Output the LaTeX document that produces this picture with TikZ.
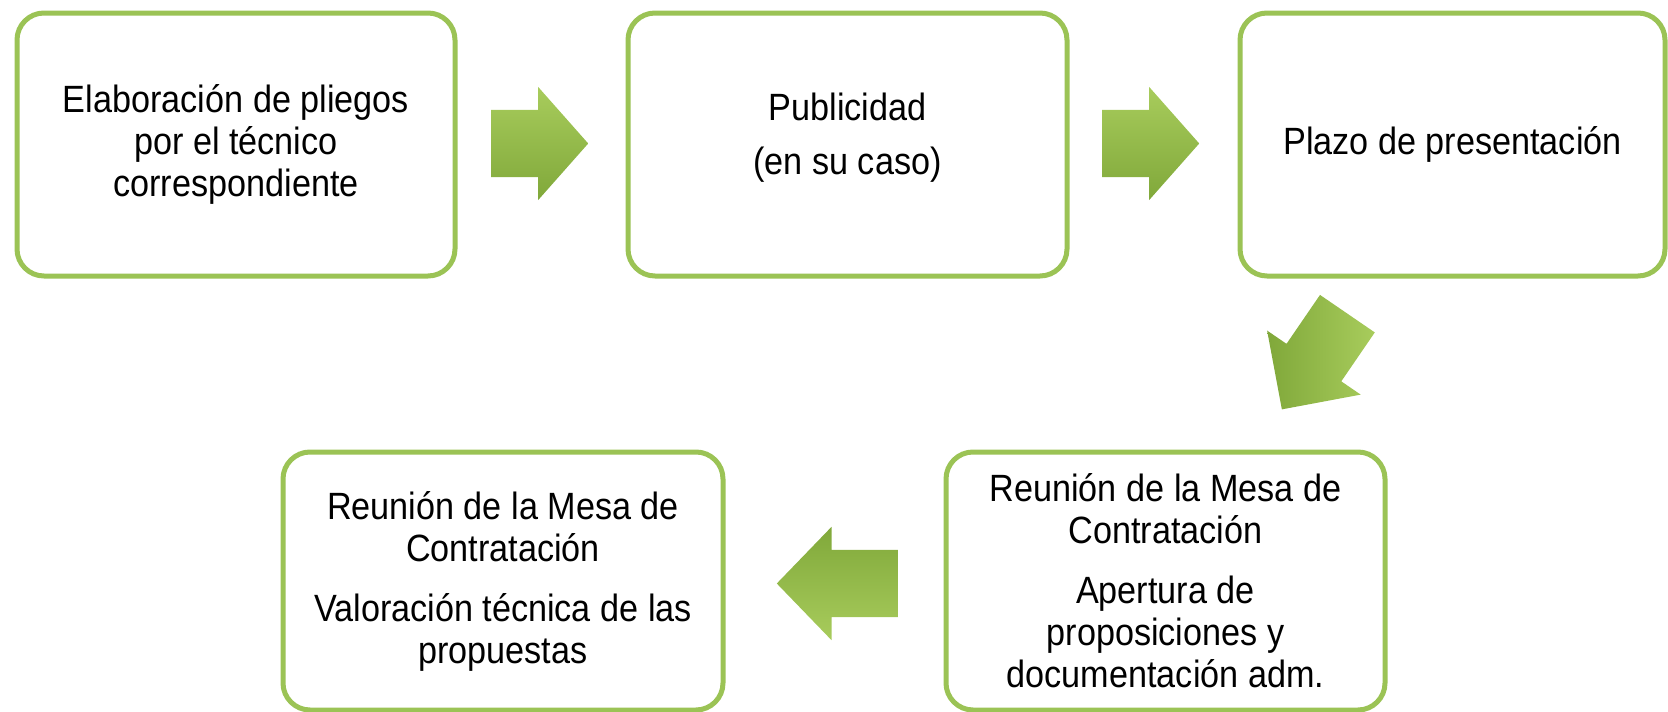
\documentclass[tikz,border=0pt]{standalone}
\usepackage{fontspec}
\setmainfont{Liberation Sans}[FakeStretch=0.9]
\usetikzlibrary{shapes.arrows}
\definecolor{rim}{RGB}{155,195,85}
\definecolor{arrlight}{RGB}{168,204,92}
\definecolor{arrdark}{RGB}{128,168,58}
\begin{document}
\begin{tikzpicture}[
  x=1pt, y=-1pt,
  box/.style={rectangle, draw=rim, line width=5pt, rounded corners=27pt,
    fill=white, align=center, inner sep=0pt,
    font=\fontsize{38}{42}\selectfont},
  arr/.style={single arrow, draw=none, anchor=tail, inner xsep=0pt, inner ysep=33.5pt,
    single arrow head extend=23pt, top color=arrlight, bottom color=arrdark}
]
\useasboundingbox (0,0) rectangle (1668,712);
\node[box, minimum width=438pt, minimum height=263pt] (b1) at (236,144.5)
  {Elaboración de pliegos\\por el técnico\\correspondiente};
\node[box, minimum width=439pt, minimum height=263pt] (b2) at (847.5,144.5)
  {Publicidad\\[12pt](en su caso)\\[-20pt]\mbox{}};
\node[box, minimum width=425pt, minimum height=263pt] (b3) at (1452.5,144.5)
  {Plazo de presentación};
\node[box, minimum width=439pt, minimum height=258pt] (b4) at (1165.5,581)
  {Reunión de la Mesa de\\Contratación\\[18pt]Apertura de\\proposiciones y\\documentación adm.};
\node[box, minimum width=440pt, minimum height=258pt] (b5) at (503,581)
  {Reunión de la Mesa de\\Contratación\\[18pt]Valoración técnica de las\\propuestas};
\node[arr, minimum height=97pt, single arrow tip angle=97] (a12) at (491,143.5) {};
\node[arr, minimum height=97pt, single arrow tip angle=97] (a23) at (1102,143.5) {};
\node[arr, minimum height=116pt, single arrow tip angle=90, inner ysep=33pt,
  single arrow head extend=23.5pt, rotate=235.6,
  left color=arrdark, right color=arrlight] (a34) at (1347.5,313.5) {};
\node[arr, minimum height=121pt, single arrow tip angle=92, rotate=180,
  top color=arrdark, bottom color=arrlight] (a45) at (898,583.5) {};
\end{tikzpicture}
\end{document}
